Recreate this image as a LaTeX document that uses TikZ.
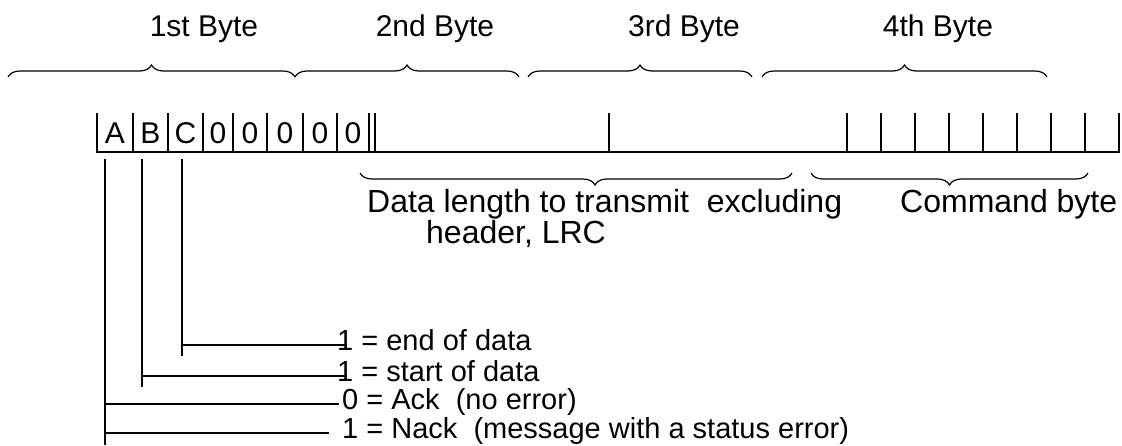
\documentclass[tikz,border=0pt]{standalone}
\usepackage{fontspec}
\setmainfont{Liberation Sans}
\usetikzlibrary{decorations.pathreplacing}

\begin{document}
\begin{tikzpicture}[x=1pt,y=-1pt,
    lbl/.style={font=\fontsize{30}{34}\selectfont,inner sep=0pt},
    biglbl/.style={font=\fontsize{32}{36}\selectfont,inner sep=0pt},
    flaglbl/.style={font=\fontsize{29}{33}\selectfont,inner sep=0pt,anchor=base west},
    upbrace/.style={decorate,decoration={brace,amplitude=12pt},line width=1.2pt},
    downbrace/.style={decorate,decoration={brace,amplitude=12pt,mirror},line width=1.2pt},
    bitline/.style={line width=2.2pt},
    drop/.style={line width=1.5pt}]
  \useasboundingbox (0,0) rectangle (1122,445);

  % byte labels and their braces
  \foreach \name/\cx/\txt in {byte1/204/1st Byte, byte2/435/2nd Byte, byte3/684/3rd Byte, byte4/938/4th Byte}
    \node[lbl,anchor=base] (\name) at (\cx,36) {\txt};
  \foreach \a/\b in {8/295, 295/519, 528/752, 762/1047}
    \draw[upbrace] (\a,77) -- (\b,77);

  % bit row
  \draw[bitline] (96,152) -- (1120,152);
  \foreach \x in {97,133,168,203,233,267,303,337,369,375,609,847,881,915,949,983,1017,1051,1085,1119}
    \draw[bitline] (\x,113) -- (\x,152);
  \foreach \name/\cx/\txt in {bitA/115/A, bitB/150.5/B, bitC/185.5/C, bitD/218/0, bitE/250/0, bitF/285/0, bitG/320/0, bitH/353/0}
    \node[lbl,anchor=base] (\name) at (\cx,143) {\txt};

  % length and command fields
  \draw[downbrace,decoration={aspect=0.544}] (360,173) -- (792,173);
  \draw[downbrace] (811,173) -- (1088,173);
  \node[biglbl,anchor=base west] (datalen) at (367,212) {Data length to transmit\ \ excluding};
  \node[biglbl,anchor=base west] (datalen2) at (426,243) {header, LRC};
  \node[biglbl,anchor=base west] (cmd) at (900,212) {Command byte};

  % flag bits
  \coordinate (dropA) at (105,159);
  \coordinate (dropB) at (142,159);
  \coordinate (dropC) at (182,159);
  \node[flaglbl] (eod) at (337,350) {1 = end of data};
  \node[flaglbl] (sod) at (337,381) {1 = start of data};
  \node[flaglbl] (ack) at (342,409) {0 = Ack\ \ (no error)};
  \node[flaglbl] (nack) at (342,438) {1 = Nack\ \ (message with a status error)};

  \draw[drop] (dropC) -- (182,356);
  \draw[drop] (dropC |- 0,345) -- ([xshift=10pt]eod.west |- 0,345);
  \draw[drop] (dropB) -- (142,387);
  \draw[drop] (dropB |- 0,376) -- ([xshift=10pt]sod.west |- 0,376);
  \draw[drop] (dropA) -- (105,445);
  \draw[drop] (dropA |- 0,404) -- ([xshift=-3pt]ack.west |- 0,404);
  \draw[drop] (dropA |- 0,433) -- ([xshift=-13pt]nack.west |- 0,433);
\end{tikzpicture}
\end{document}
